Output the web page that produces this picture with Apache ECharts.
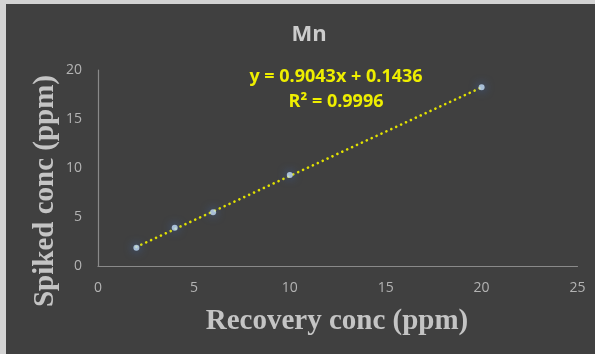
<!DOCTYPE html>
<html>
<head>
<meta charset="utf-8">
<script src="https://cdn.jsdelivr.net/npm/echarts@6/dist/echarts.min.js"></script>
<style>
  html, body { margin: 0; padding: 0; background: #d3d3d3; width: 595px; height: 354px; overflow: hidden; }
  #chart { position: absolute; left: 6px; top: 4px; width: 589px; height: 350px; background: #404040; }
</style>
</head>
<body>
<div id="chart"></div>
<script>
// Data
const chartTitle = 'Mn';
const xAxisTitle = 'Recovery conc (ppm)';
const yAxisTitle = 'Spiked conc (ppm)';
const recoveryConc = [2, 4, 6, 10, 20];
const spikedConc = [1.87, 3.91, 5.48, 9.29, 18.23];
const trendX = [2, 20];
const trendY = [1.95, 18.23];
const equationText = 'y = 0.9043x + 0.1436';
const r2Text = 'R\u00B2 = 0.9996';
const xTicks = [0, 5, 10, 15, 20, 25];
const yTicks = [0, 5, 10, 15, 20];

const chart = echarts.init(document.getElementById('chart'), null, { renderer: 'canvas' });
const labelColor = '#b3b3b3';
const axisColor = '#8a8a8a';

chart.setOption({
  backgroundColor: '#404040',
  animation: false,
  title: {
    text: chartTitle,
    left: 298,
    top: 15,
    textAlign: 'center',
    textStyle: { color: '#cccccc', fontFamily: 'Open Sans', fontWeight: 'bold', fontSize: 22 }
  },
  grid: { left: 92, top: 66, right: 17.5, bottom: 88 },
  xAxis: {
    type: 'value',
    min: xTicks[0],
    max: xTicks[xTicks.length - 1],
    interval: 5,
    axisLine: { show: true, lineStyle: { color: axisColor, width: 1.2 } },
    axisTick: { show: false },
    splitLine: { show: false },
    axisLabel: { color: labelColor, fontFamily: 'Open Sans', fontSize: 14, margin: 15 }
  },
  yAxis: {
    type: 'value',
    min: yTicks[0],
    max: yTicks[yTicks.length - 1],
    interval: 5,
    axisLine: { show: true, lineStyle: { color: axisColor, width: 1.2 } },
    axisTick: { show: false },
    splitLine: { show: false },
    axisLabel: { color: labelColor, fontFamily: 'Open Sans', fontSize: 14, margin: 16 }
  },
  graphic: [
    { type: 'text', x: 331, y: 318, style: { text: xAxisTitle, fill: '#c4c4c4', font: 'bold 29px "Liberation Serif"', align: 'center', verticalAlign: 'middle' }, silent: true },
    { type: 'text', x: 40, y: 187, rotation: Math.PI / 2, style: { text: yAxisTitle, fill: '#c4c4c4', font: 'bold 29px "Liberation Serif"', align: 'center', verticalAlign: 'middle' }, silent: true },
    { type: 'text', x: 330, y: 73, style: { text: equationText, fill: '#eeee00', font: 'bold 18px "Open Sans"', align: 'center', verticalAlign: 'middle' }, silent: true },
    { type: 'text', x: 330, y: 98, style: { text: r2Text, fill: '#eeee00', font: 'bold 18px "Open Sans"', align: 'center', verticalAlign: 'middle' }, silent: true }
  ],
  series: [
    {
      type: 'line',
      data: trendX.map((x, i) => [x, trendY[i]]),
      symbol: 'none',
      z: 3,
      lineStyle: { color: '#e2e200', width: 2.6, type: [0.1, 5.3], cap: 'round' }
    },
    {
      type: 'scatter',
      data: recoveryConc.map((x, i) => [x, spikedConc[i]]),
      symbol: 'circle',
      symbolSize: 6,
      z: 4,
      itemStyle: { color: '#c2dcf8', shadowColor: 'rgba(60,115,210,1)', shadowBlur: 10 }
    }
  ]
});
</script>
</body>
</html>
